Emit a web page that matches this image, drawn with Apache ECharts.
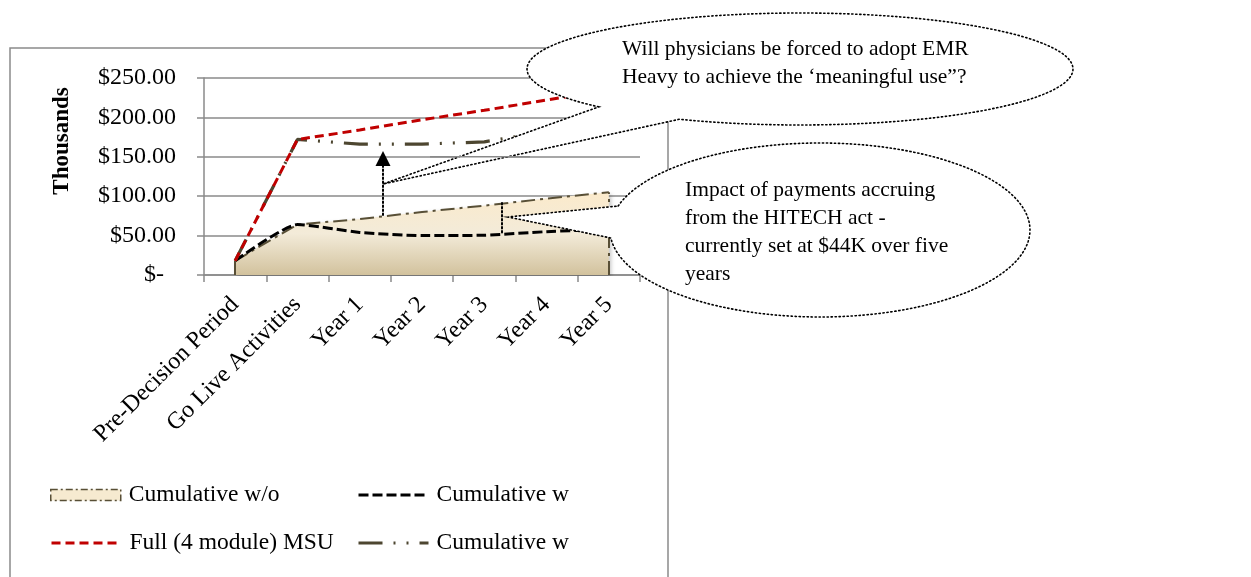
<!DOCTYPE html>
<html>
<head>
<meta charset="utf-8">
<script src="https://cdn.jsdelivr.net/npm/echarts@6/dist/echarts.min.js"></script>
<style>
html,body{margin:0;padding:0;background:#fff;}
#c{width:1251px;height:577px;}
</style>
</head>
<body>
<div id="c"></div>
<script>
const categories = ['Pre-Decision Period','Go Live Activities','Year 1','Year 2','Year 3','Year 4','Year 5'];
const cumWithout = [18, 64, 71, 80, 88, 97, 105];
const cumWith = [18, 64, 54, 50, 50.5, 55, 58];
const fullMSU = [18, 172, 184, 197, 209, 222, 235];
const cumWith2 = [18, 172, 166, 166, 169, 182, 194];
const yMin = 0, yMax = 250, yStep = 50;

const SERIF = '"Liberation Serif", "Times New Roman", serif';
const OLIVE = '#584f36';
const GRAY = '#8a8a8a';

const chart = echarts.init(document.getElementById('c'));
const last = categories.length - 1;

const areaFill = new echarts.graphic.LinearGradient(0, 0, 0, 1, [
  {offset: 0, color: '#fbeacb'},
  {offset: 0.5, color: '#f3ebd9'},
  {offset: 1, color: '#d2c29d'}
]);

const dotted = {stroke: '#000', lineWidth: 1.6, lineDash: [1.3, 2.7], lineCap: 'round'};

// oval callout outline: ellipse arc from p1 round the long way to p2, then to the tail tip
function callout(cx, cy, rx, ry, p1, p2, tip) {
  const a1 = Math.atan2((p1[1] - cy) / ry, (p1[0] - cx) / rx);
  let a2 = Math.atan2((p2[1] - cy) / ry, (p2[0] - cx) / rx);
  while (a2 <= a1) a2 += Math.PI * 2;
  const pts = [];
  const n = 160;
  for (let i = 0; i <= n; i++) {
    const a = a1 + (a2 - a1) * i / n;
    pts.push([cx + rx * Math.cos(a), cy + ry * Math.sin(a)]);
  }
  pts.push(tip);
  return pts;
}

function legendBox(name, left, top, extra) {
  return Object.assign({
    left: left, top: top, padding: 0, itemWidth: 70, itemHeight: 11,
    selectedMode: false,
    formatter: n => n.split('|')[0],
    textStyle: {fontFamily: SERIF, fontSize: 23.5, color: '#000', padding: [0, 0, 0, 3]},
    lineStyle: {width: 3},
    data: [name]
  }, extra || {});
}

function buildGraphic(gridY150) {
  const g = [
    {type: 'rect', z: -1, silent: true, shape: {x: 10, y: 48, width: 658, height: 560},
      style: {fill: null, stroke: GRAY, lineWidth: 1.5}},
    {type: 'text', z: 50, silent: true, x: 62, y: 141, rotation: Math.PI / 2,
      style: {text: 'Thousands', font: 'bold 23px ' + SERIF, fill: '#000', align: 'center', verticalAlign: 'middle'}},
    // top callout
    {type: 'polygon', z: 100, silent: true,
      shape: {points: callout(800, 69, 273, 56, [598, 107], [680, 119], [383, 184])},
      style: Object.assign({fill: '#fff'}, dotted)},
    {type: 'text', z: 101, silent: true, x: 622, y: 49,
      style: {text: 'Will physicians be forced to adopt EMR', font: '21.5px ' + SERIF, fill: '#000', verticalAlign: 'middle'}},
    {type: 'text', z: 101, silent: true, x: 622, y: 77,
      style: {text: 'Heavy to achieve the \u2018meaningful use\u201d?', font: '21.5px ' + SERIF, fill: '#000', verticalAlign: 'middle'}},
    // lower callout
    {type: 'polygon', z: 100, silent: true,
      shape: {points: callout(820, 230, 210, 87, [618, 206], [611, 238], [508, 217])},
      style: Object.assign({fill: '#fff'}, dotted)},
    {type: 'text', z: 101, silent: true, x: 685, y: 190,
      style: {text: 'Impact of payments accruing', font: '21.5px ' + SERIF, fill: '#000', verticalAlign: 'middle'}},
    {type: 'text', z: 101, silent: true, x: 685, y: 218,
      style: {text: 'from the HITECH act -', font: '21.5px ' + SERIF, fill: '#000', verticalAlign: 'middle'}},
    {type: 'text', z: 101, silent: true, x: 685, y: 246,
      style: {text: 'currently set at $44K over five', font: '21.5px ' + SERIF, fill: '#000', verticalAlign: 'middle'}},
    {type: 'text', z: 101, silent: true, x: 685, y: 274,
      style: {text: 'years', font: '21.5px ' + SERIF, fill: '#000', verticalAlign: 'middle'}},
    // arrow
    {type: 'line', z: 102, silent: true, shape: {x1: 383, y1: 215, x2: 383, y2: 166},
      style: {stroke: '#000', lineWidth: 2, lineDash: [1.5, 2.5], lineCap: 'round'}},
    {type: 'polygon', z: 102, silent: true, shape: {points: [[383, 151], [375.5, 166], [390.5, 166]]},
      style: {fill: '#000'}},
    {type: 'line', z: 102, silent: true, shape: {x1: 502, y1: 203, x2: 502, y2: 233},
      style: {stroke: '#000', lineWidth: 2, lineDash: [1.5, 2.5], lineCap: 'round'}}
  ];
  if (gridY150 != null) {
    // the $150 gridline shows through the upper callout's tail in the original
    g.push({type: 'line', z: 101, silent: true, shape: {x1: 430, y1: gridY150, x2: 530, y2: gridY150},
      style: {stroke: GRAY, lineWidth: 1.5}});
  }
  return g;
}

chart.setOption({
  animation: false,
  grid: {left: 204, right: 611, top: 78, bottom: 302},
  xAxis: {
    type: 'category',
    data: categories,
    boundaryGap: true,
    axisLine: {lineStyle: {color: GRAY, width: 1.5}},
    axisTick: {show: true, length: 7, interval: 0, lineStyle: {color: GRAY, width: 1.5}},
    axisLabel: {interval: 0, rotate: 45, margin: 26, fontFamily: SERIF, fontSize: 24, color: '#000'},
    splitLine: {show: false}
  },
  yAxis: {
    type: 'value',
    min: yMin, max: yMax, interval: yStep,
    axisLine: {show: true, lineStyle: {color: GRAY, width: 1.5}},
    axisTick: {show: true, length: 7, lineStyle: {color: GRAY, width: 1.5}},
    splitLine: {lineStyle: {color: GRAY, width: 1.5}},
    axisLabel: {
      margin: 28, fontFamily: SERIF, fontSize: 24, color: '#000',
      formatter: v => v === 0 ? '{z|$-}' : '$' + v.toFixed(2),
      rich: {z: {fontFamily: SERIF, fontSize: 24, color: '#000', padding: [0, 12, 0, 0]}}
    }
  },
  legend: [
    legendBox('Cumulative w/o', 50, 483, {
      data: [{name: 'Cumulative w/o', icon: 'rect',
        itemStyle: {color: '#f6ead0', borderColor: OLIVE, borderWidth: 1.5, borderType: [7, 3, 2, 3]}}]
    }),
    legendBox('Cumulative w|1', 357, 483, {itemStyle: {opacity: 0}}),
    legendBox('Full (4 module) MSU', 50, 531, {itemStyle: {opacity: 0}}),
    legendBox('Cumulative w|2', 357, 531, {itemStyle: {opacity: 0}})
  ],
  series: [
    {
      name: 'Cumulative w/o', type: 'line', data: cumWithout, symbol: 'none', z: 1,
      lineStyle: {color: OLIVE, width: 2, type: [14, 5, 3, 5]},
      itemStyle: {color: OLIVE},
      areaStyle: {color: areaFill, opacity: 1, shadowColor: 'rgba(0,0,0,0.25)', shadowBlur: 4, shadowOffsetX: 2, shadowOffsetY: 2},
      markLine: {
        silent: true, symbol: 'none', label: {show: false},
        lineStyle: {color: OLIVE, width: 2, type: [14, 5, 3, 5]},
        data: [
          [{coord: [categories[0], 0]}, {coord: [categories[0], cumWithout[0]]}],
          [{coord: [categories[last], 0]}, {coord: [categories[last], cumWithout[last]]}]
        ]
      }
    },
    {
      name: 'Cumulative w|1', type: 'line', data: cumWith, symbol: 'none', smooth: 0.18, z: 3,
      lineStyle: {color: '#000', width: 3, type: [10, 4]},
      itemStyle: {color: '#000'}
    },
    {
      name: 'Cumulative w|2', type: 'line', data: cumWith2, symbol: 'none', smooth: false, z: 3,
      lineStyle: {color: '#4d4630', width: 3.2, type: [24, 11, 2, 11, 2, 11]},
      itemStyle: {color: '#4d4630'}
    },
    {
      name: 'Full (4 module) MSU', type: 'line', data: fullMSU, symbol: 'none', z: 4,
      lineStyle: {color: '#c00000', width: 3, type: [9, 5]},
      itemStyle: {color: '#c00000'}
    }
  ],
  graphic: buildGraphic(null)
});

const y150 = chart.convertToPixel({yAxisIndex: 0}, 150);
chart.setOption({graphic: buildGraphic(y150)}, {replaceMerge: ['graphic']});
</script>
</body>
</html>
